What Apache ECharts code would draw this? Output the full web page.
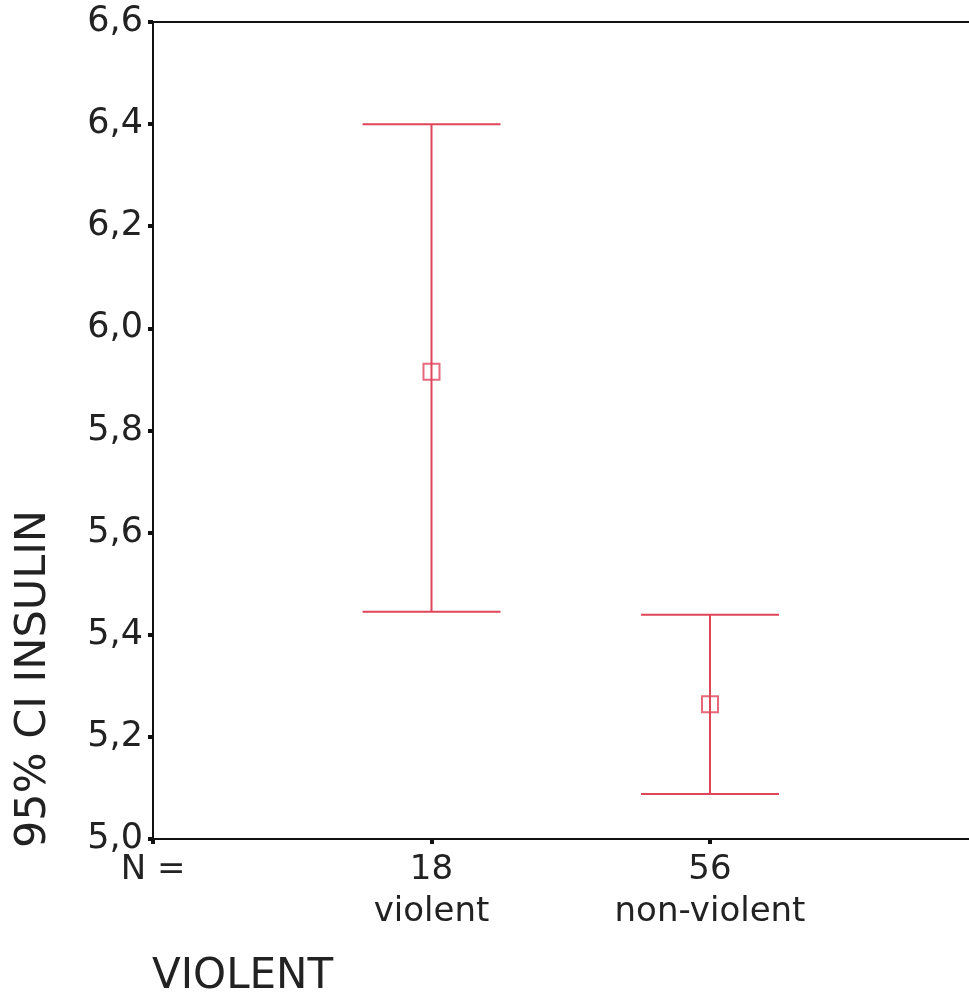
<!DOCTYPE html>
<html>
<head>
<meta charset="UTF-8">
<title>95% CI INSULIN</title>
	<script src="https://cdn.jsdelivr.net/npm/echarts@6/dist/echarts.min.js"></script>
	<style>
		body { margin: 0; background: #fff; }
	</style>
</head>
<body>
	<div id="main" style="width: 969px;height:996px;"></div>
	<script type="text/javascript">
		// groups and their N
		var groups = ['violent', 'non-violent'];
		var counts = [18, 56];
		var groupPos = [1, 2];
		// 95% CI of insulin per group
		var means = [5.915, 5.264];
		var lower = [5.445, 5.088];
		var upper = [6.40, 5.439];

		var red = '#e0455a';
		var font = 'DejaVu Sans';

		var barData = [];
		var meanData = [];
		for (var i = 0; i < groups.length; i++) {
			barData.push([groupPos[i], lower[i], upper[i]]);
			meanData.push([groupPos[i], means[i]]);
		}

		var myChart = echarts.init(document.getElementById('main'));

		var option = {
			animation: false,
			backgroundColor: '#fff',
			grid: { left: 153, right: 0, top: 22, bottom: 157 },
			xAxis: [{
				type: 'value',
				min: 0,
				max: 2.93,
				interval: 1,
				splitLine: { show: false },
				axisLine: { lineStyle: { color: '#111', width: 2 } },
				axisTick: { length: 5, lineStyle: { color: '#111', width: 4 } },
				axisLabel: {
					color: '#222',
					fontFamily: font,
					fontSize: 34,
					lineHeight: 42,
					margin: 10,
					showMaxLabel: false,
					formatter: function (v) {
						if (v === 0) return 'N =';
						var k = groupPos.indexOf(v);
						return k < 0 ? '' : counts[k] + '\n' + groups[k];
					}
				}
			}, {
				type: 'value',
				position: 'top',
				min: 0,
				max: 2.93,
				axisLine: { show: true, onZero: false, lineStyle: { color: '#111', width: 2 } },
				axisTick: { show: false },
				axisLabel: { show: false },
				splitLine: { show: false }
			}],
			yAxis: {
				type: 'value',
				min: 5.0,
				max: 6.6,
				interval: 0.2,
				splitLine: { show: false },
				axisLine: { show: true, lineStyle: { color: '#111', width: 2 } },
				axisTick: { length: 5, lineStyle: { color: '#111', width: 4 } },
				axisLabel: {
					color: '#222',
					fontFamily: font,
					fontSize: 35,
					margin: 10,
					formatter: function (v) { return v.toFixed(1).replace('.', ','); }
				}
			},
			graphic: [{
				type: 'text',
				x: 12,
				y: 848,
				rotation: Math.PI / 2,
				style: {
					text: '95% CI INSULIN',
					font: '43px "DejaVu Sans"',
					fill: '#222',
					textVerticalAlign: 'top'
				}
			}, {
				type: 'text',
				left: 152,
				top: 956,
				style: {
					text: 'VIOLENT',
					font: '42px "DejaVu Sans"',
					fill: '#222'
				}
			}],
			series: [{
				type: 'custom',
				data: barData,
				renderItem: function (params, api) {
					var lo = api.coord([api.value(0), api.value(1)]);
					var hi = api.coord([api.value(0), api.value(2)]);
					var hw = 69;
					var st = { stroke: red, lineWidth: 2 };
					return {
						type: 'group',
						children: [
							{ type: 'line', shape: { x1: lo[0], y1: lo[1], x2: hi[0], y2: hi[1] }, style: st },
							{ type: 'line', shape: { x1: hi[0] - hw, y1: hi[1], x2: hi[0] + hw, y2: hi[1] }, style: st },
							{ type: 'line', shape: { x1: lo[0] - hw, y1: lo[1], x2: lo[0] + hw, y2: lo[1] }, style: st }
						]
					};
				}
			}, {
				type: 'scatter',
				data: meanData,
				symbol: 'rect',
				symbolSize: 16,
				itemStyle: { color: 'rgba(255,255,255,0)', borderColor: red, borderWidth: 2 }
			}]
		};

		myChart.setOption(option);
	</script>
</body>
</html>
